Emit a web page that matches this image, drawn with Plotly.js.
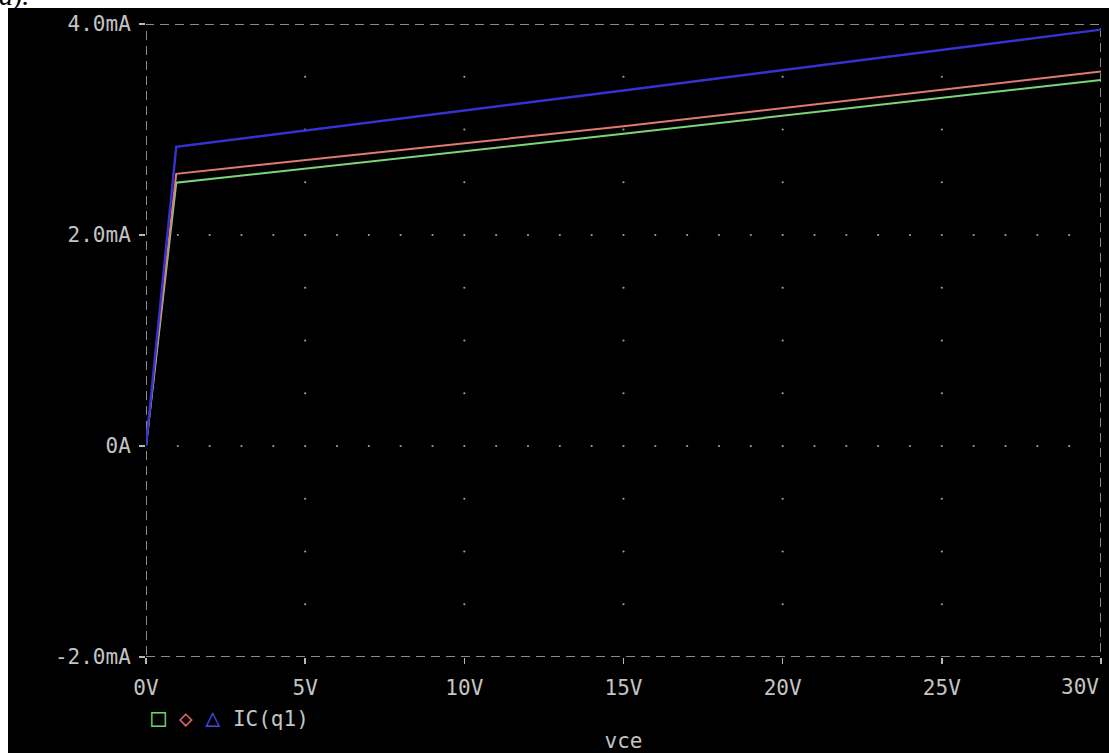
<!DOCTYPE html>
<html>
<head>
<meta charset="utf-8">
<script src="https://cdn.plot.ly/plotly-3.0.1.min.js"></script>
<style>
  html, body { margin: 0; padding: 0; background: #ffffff; width: 1109px; height: 753px; overflow: hidden; }
  #cap { position: absolute; left: -1px; top: -18px; font: italic 28px "Liberation Serif", serif; line-height: 28px; color: #000; z-index: 0; }
  #chart { position: absolute; left: 8px; top: 8px; width: 1101px; height: 745px; z-index: 1; }
</style>
</head>
<body>
<div id="cap">a).</div>
<div id="chart"></div>
<script>
// Sweep voltage (V) and collector current IC(q1) in mA for three runs
const vce     = [0, 0.95, 15, 30];
const icGreen = [0, 2.495, 2.96, 3.47];
const icRed   = [0, 2.58, 3.03, 3.55];
const icBlue  = [0, 2.836, 3.37, 3.947];

const xTickVals = [0, 5, 10, 15, 20, 25, 30];
const xTickText = ['0V', '5V', '10V', '15V', '20V', '25V', ''];
const xLastLabel = '30V';
const yTickVals = [-2, 0, 2, 4];
const yTickText = ['-2.0mA', '0A', '2.0mA', '4.0mA'];

// dotted grid (PSpice style)
const majorCols = [5, 10, 15, 20, 25];
const minorRows = [-1.5, -1, -0.5, 0.5, 1, 1.5, 2.5, 3, 3.5, 0, 2];
const denseRows = [0, 2];
const gx = [], gy = [];
majorCols.forEach(c => minorRows.forEach(r => { gx.push(c); gy.push(r); }));
denseRows.forEach(r => { for (let v = 1; v < 30; v++) { if (v % 5 !== 0) { gx.push(v); gy.push(r); } } });

const fontFam = '"DejaVu Sans Mono", "Liberation Mono", monospace';
const txtCol = '#c4c4c4';
const fs = 21;

const traces = [
  { x: gx, y: gy, mode: 'markers', type: 'scatter', hoverinfo: 'skip',
    marker: { size: 2.2, color: '#a0a0a0' }, showlegend: false },
  { x: vce, y: icGreen, mode: 'lines', type: 'scatter', name: 'IC(q1)',
    line: { color: '#7ad67a', width: 2 }, showlegend: false },
  { x: vce, y: icRed, mode: 'lines', type: 'scatter', name: 'IC(q1)',
    line: { color: '#e07a72', width: 2 }, showlegend: false },
  { x: vce, y: icBlue, mode: 'lines', type: 'scatter', name: 'IC(q1)',
    line: { color: '#3532d0', width: 2.4 }, showlegend: false }
];

const layout = {
  width: 1101, height: 745,
  paper_bgcolor: '#000000', plot_bgcolor: '#000000',
  margin: { l: 138, r: 8, t: 16, b: 96 },
  showlegend: false,
  font: { family: fontFam, color: txtCol, size: fs },
  xaxis: {
    range: [0, 30], showgrid: false, zeroline: false, showline: false,
    tickmode: 'array', tickvals: xTickVals, ticktext: xTickText,
    ticks: 'outside', ticklen: 6, tickwidth: 1.5, tickcolor: '#b8b8b8',
    ticklabelstandoff: 6,
    tickfont: { family: fontFam, color: txtCol, size: fs },
    title: { text: 'vce', font: { family: fontFam, color: txtCol, size: fs }, standoff: 50 },
    fixedrange: true
  },
  yaxis: {
    range: [-2, 4], showgrid: false, zeroline: false, showline: false,
    tickmode: 'array', tickvals: yTickVals, ticktext: yTickText,
    ticks: 'outside', ticklen: 6, tickwidth: 1.5, tickcolor: '#b8b8b8',
    ticklabelstandoff: 4,
    tickfont: { family: fontFam, color: txtCol, size: fs },
    fixedrange: true
  },
  shapes: [
    { type: 'rect', xref: 'x', yref: 'y', x0: 0, x1: 30, y0: -2, y1: 4,
      line: { color: '#b8b8b8', width: 1.5, dash: '9px,6px' }, layer: 'below' }
  ],
  annotations: [
    { xref: 'x', yref: 'paper', x: 30, y: -0.0474, xanchor: 'right', yanchor: 'middle',
      showarrow: false, font: { family: fontFam, color: txtCol, size: fs }, text: xLastLabel },
    { xref: 'paper', yref: 'paper', x: 0.003, y: -0.095, xanchor: 'left', yanchor: 'middle',
      showarrow: false, font: { family: fontFam, color: txtCol, size: fs },
      text: '<span style="color:#6fd06f;font-size:25px">□</span> <span style="color:#d86a62;font-size:23px">◇</span> <span style="color:#4a46e0;font-size:25px">△</span> IC(q1)' }
  ]
};

Plotly.newPlot('chart', traces, layout, { displayModeBar: false, staticPlot: true });
</script>
</body>
</html>
